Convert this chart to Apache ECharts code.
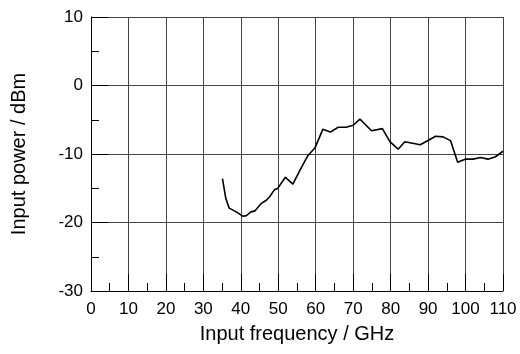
<!DOCTYPE html>
<html>
<head>
<meta charset="utf-8">
<script src="https://cdn.jsdelivr.net/npm/echarts@6/dist/echarts.min.js"></script>
<style>
html,body{margin:0;padding:0;background:#fff;}
#chart{width:520px;height:354px;}
</style>
</head>
<body>
<div id="chart"></div>
<script>
var freqGHz = [35.1, 36.0, 36.9, 38.8, 40.6, 41.5, 42.7, 43.8, 45.5, 46.8, 47.7, 49.0, 49.8, 51.9, 53.9, 55.8, 57.9, 59.8, 61.9, 63.9, 66.0, 68.1, 70.0, 71.8, 74.9, 77.8, 79.8, 82.0, 83.8, 87.9, 90.1, 92.0, 94.0, 96.0, 97.9, 99.9, 102.0, 104.0, 106.0, 108.0, 110.0];
var powerDBm = [-13.6, -16.5, -17.9, -18.45, -19.1, -19.0, -18.45, -18.3, -17.2, -16.75, -16.25, -15.2, -15.05, -13.4, -14.4, -12.35, -10.25, -9.1, -6.4, -6.8, -6.1, -6.1, -5.8, -4.9, -6.6, -6.3, -8.2, -9.3, -8.2, -8.65, -8.0, -7.4, -7.5, -8.05, -11.2, -10.75, -10.75, -10.5, -10.75, -10.4, -9.6];
var xTicks = {min: 0, max: 110, interval: 10};
var yTicks = {min: -30, max: 10, interval: 10};
var xTitle = 'Input frequency / GHz';
var yTitle = 'Input power / dBm';

var pts = freqGHz.map(function(f, i){ return [f, powerDBm[i]]; });
var font = 'Liberation Sans, Arial, Helvetica, sans-serif';
var chart = echarts.init(document.getElementById('chart'), null, {renderer: 'canvas'});
chart.setOption({
  animation: false,
  backgroundColor: '#fff',
  grid: {left: 91, right: 17, top: 17, bottom: 63, containLabel: false},
  xAxis: {
    type: 'value', min: xTicks.min, max: xTicks.max, interval: xTicks.interval,
    name: xTitle, nameLocation: 'middle', nameGap: 33,
    nameTextStyle: {fontFamily: font, fontSize: 20, color: '#000'},
    axisLine: {show: true, onZero: false, lineStyle: {color: '#000', width: 1}},
    axisTick: {show: true, inside: true, length: 17, lineStyle: {color: '#000'}},
    minorTick: {show: true, splitNumber: 2, length: 8, lineStyle: {color: '#000'}},
    axisLabel: {fontFamily: font, fontSize: 17, color: '#000', margin: 10},
    splitLine: {show: true, lineStyle: {color: '#444', width: 1}}
  },
  yAxis: {
    type: 'value', min: yTicks.min, max: yTicks.max, interval: yTicks.interval,
    name: yTitle, nameLocation: 'middle', nameGap: 62,
    nameTextStyle: {fontFamily: font, fontSize: 20, color: '#000'},
    axisLine: {show: true, onZero: false, lineStyle: {color: '#000', width: 1}},
    axisTick: {show: true, inside: true, length: 17, lineStyle: {color: '#000'}},
    minorTick: {show: true, splitNumber: 2, length: 8, lineStyle: {color: '#000'}},
    axisLabel: {fontFamily: font, fontSize: 17, color: '#000', margin: 8},
    splitLine: {show: true, lineStyle: {color: '#444', width: 1}}
  },
  series: [{
    type: 'line', data: pts, showSymbol: false, symbol: 'none',
    lineStyle: {color: '#000', width: 1.6}
  }]
});
</script>
</body>
</html>
